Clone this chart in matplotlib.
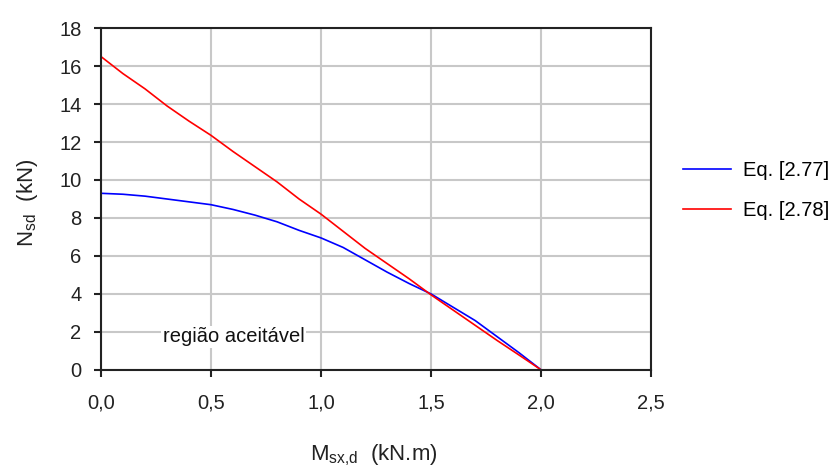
import matplotlib
matplotlib.use('Agg')
import matplotlib.pyplot as plt

plt.rcParams['font.family'] = ['Liberation Sans', 'DejaVu Sans']
plt.rcParams['mathtext.fontset'] = 'custom'
plt.rcParams['mathtext.rm'] = 'Liberation Sans'
plt.rcParams['mathtext.it'] = 'Liberation Sans'

# M_sx,d (kN.m) values
msx = [0.0, 0.1, 0.2, 0.3, 0.4, 0.5, 0.6, 0.7, 0.8, 0.9, 1.0,
       1.1, 1.2, 1.3, 1.4, 1.5, 1.6, 1.7, 1.8, 1.9, 2.0]
# Eq. [2.77]
n_277 = [9.3, 9.25, 9.15, 9.0, 8.85, 8.7, 8.45, 8.15, 7.8, 7.35, 6.95,
         6.45, 5.8, 5.15, 4.55, 4.0, 3.3, 2.6, 1.75, 0.9, 0.0]
# Eq. [2.78]
n_278 = [16.5, 15.6, 14.8, 13.9, 13.1, 12.35, 11.5, 10.7, 9.9, 9.0, 8.2,
         7.3, 6.4, 5.6, 4.8, 3.95, 3.15, 2.35, 1.55, 0.78, 0.0]

xticks = [0.0, 0.5, 1.0, 1.5, 2.0, 2.5]
xtick_labels = ['0,0', '0,5', '1,0', '1,5', '2,0', '2,5']
yticks = [0, 2, 4, 6, 8, 10, 12, 14, 16, 18]

fig = plt.figure(figsize=(8.34, 4.70), dpi=100)
ax = fig.add_axes([0.121, 0.2128, 0.66, 0.7276])

ax.plot(msx, n_277, color='#0000ff', lw=1.2, label='Eq. [2.77]')
ax.plot(msx, n_278, color='#ff0000', lw=1.2, label='Eq. [2.78]')

ax.set_xlim(0, 2.5)
ax.set_ylim(0, 18)
ax.set_xticks(xticks)
ax.set_xticklabels(xtick_labels)
ax.set_yticks(yticks)
ax.grid(True, color='#c8c8c8', lw=1.5)
ax.set_axisbelow(True)
for s in ax.spines.values():
    s.set_color('#222222')
    s.set_linewidth(1.5)
ax.tick_params(direction='out', length=5, width=1.5, color='#222222',
               labelsize=14.5, labelcolor='#222222', pad=9)
ax.tick_params(axis='x', pad=12)

ax.text(0.28, 1.75, 'região aceitável', fontsize=14.5, va='center', ha='left',
        color='#111111',
        bbox=dict(facecolor='white', edgecolor='none', pad=1))

fig.text(0.448, 0.032, r'M$_{\mathregular{sx{,}d}}$  (kN.m)', fontsize=16,
         ha='center', va='center', color='#222222')
fig.text(0.033, 0.568, r'N$_{\mathregular{sd}}$  (kN)', fontsize=16,
         ha='center', va='center', rotation=90, color='#222222')

ax.legend(loc='center left', bbox_to_anchor=(0.819, 0.595),
          bbox_transform=fig.transFigure, frameon=False, fontsize=14.5,
          handlelength=2.4, handletextpad=0.6, labelspacing=1.05,
          borderpad=0, borderaxespad=0)

fig.savefig('out.png', dpi=100)
